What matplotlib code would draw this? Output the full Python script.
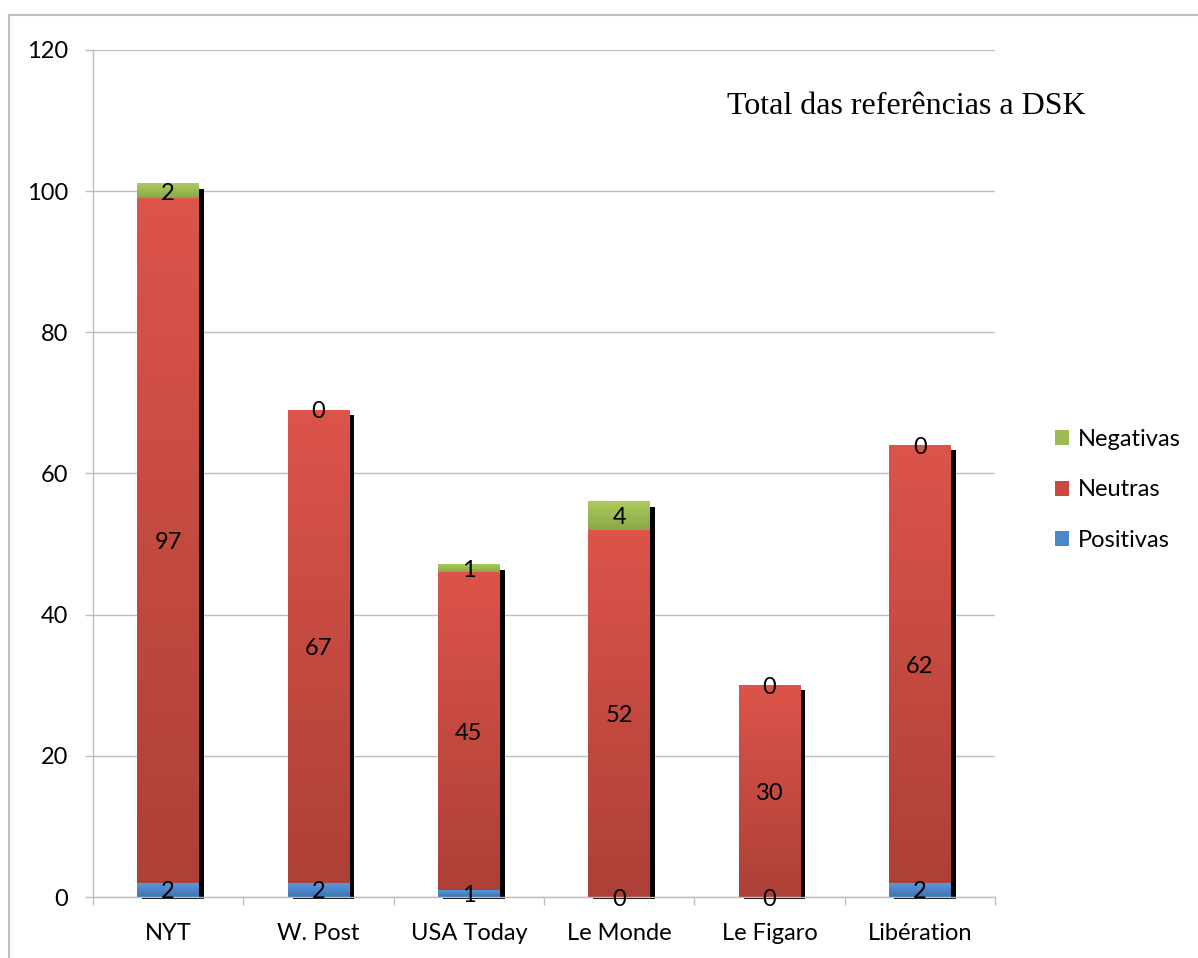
import numpy as np
import matplotlib
matplotlib.use("Agg")
import matplotlib.pyplot as plt
from matplotlib.colors import LinearSegmentedColormap
from matplotlib.transforms import ScaledTranslation
from matplotlib.patches import Patch
from matplotlib.lines import Line2D

categories = ["NYT", "W. Post", "USA Today", "Le Monde", "Le Figaro", "Libération"]
positivas = [2, 2, 1, 0, 0, 2]
neutras = [97, 67, 45, 52, 30, 62]
negativas = [2, 0, 1, 4, 0, 0]
series_names = ["Positivas", "Neutras", "Negativas"]
title_text = "Total das referências a DSK"
yticks = [0, 20, 40, 60, 80, 100, 120]

plt.rcParams['font.family'] = ['Lato', 'DejaVu Sans']

fig = plt.figure(figsize=(11.98, 9.58), dpi=100)
W, H = 1198, 958
ax = fig.add_axes([93 / W, 1 - 897 / H, (995 - 93) / W, (897 - 50) / H])

x = np.arange(len(categories))
width = 0.41
ymax = 120
ax.set_xlim(-0.5, len(categories) - 0.5)
ax.set_ylim(0, ymax)

# gradients (bottom color, top color)
grad = {
    "Positivas": ("#3D74B7", "#5A9BDC"),
    "Neutras": ("#AD4037", "#DC544A"),
    "Negativas": ("#89A845", "#AECB5E"),
}
legend_col = {"Positivas": "#4A88CC", "Neutras": "#C84A40", "Negativas": "#9DBB52"}

pos = np.array(positivas, float)
neu = np.array(neutras, float)
neg = np.array(negativas, float)
totals = pos + neu + neg

# shadow
px_y = ymax / (897 - 50)
shadow_tr = ax.transData + ScaledTranslation(5 / 100, -2 / 100, fig.dpi_scale_trans)
ax.bar(x, totals - 3 * px_y, width=width, color="black", transform=shadow_tr,
       zorder=1.5, clip_on=False, linewidth=0)

label_tr = ax.transData + ScaledTranslation(0, -2 / 100, fig.dpi_scale_trans)
gvals = np.linspace(0, 1, 256).reshape(-1, 1)
bottoms = [np.zeros_like(pos), pos, pos + neu]
vals = [pos, neu, neg]
for name, v, b in zip(series_names, vals, bottoms):
    cmap = LinearSegmentedColormap.from_list(name, list(grad[name]))
    bars = ax.bar(x, v, bottom=b, width=width, color=legend_col[name], zorder=2, linewidth=0)
    for rect, val, bot, xi in zip(bars, v, b, x):
        if val > 0:
            ax.imshow(gvals, extent=[xi - width / 2, xi + width / 2, bot, bot + val],
                      origin="lower", aspect="auto", cmap=cmap, zorder=2.1,
                      interpolation="bilinear")
        ax.text(xi, bot + val / 2, f"{int(val)}", ha="center", va="center",
                fontsize=17, color="black", zorder=4, transform=label_tr, clip_on=False)

ax.set_xlim(-0.5, len(categories) - 0.5)
ax.set_ylim(0, ymax)

# axes styling
gridc = "#BDBDBD"
ax.set_axisbelow(True)
ax.yaxis.grid(True, color=gridc, linewidth=1)
ax.set_yticks(yticks)
ax.tick_params(axis="y", length=6, width=1, color=gridc, pad=12, labelsize=17)
ax.set_xticks(x)
ax.set_xticklabels(categories)
ax.tick_params(axis="x", which="major", length=0, pad=18.5, labelsize=17)
ax.set_xticks(np.arange(len(categories) + 1) - 0.5, minor=True)
ax.tick_params(axis="x", which="minor", length=6, width=1, color=gridc)
for s in ["top", "right"]:
    ax.spines[s].set_visible(False)
for s in ["left", "bottom"]:
    ax.spines[s].set_color(gridc)
    ax.spines[s].set_linewidth(1)

ax.text((1086 - 93) / (995 - 93), 0.933, title_text, transform=ax.transAxes,
        ha="right", va="center", fontsize=23, family="Liberation Serif",
        color="black", clip_on=False)

handles = [Patch(facecolor=legend_col[n], edgecolor="none") for n in reversed(series_names)]
leg = fig.legend(handles, list(reversed(series_names)), loc="center left",
                 bbox_to_anchor=(1034 / W, 1 - 490 / H), frameon=False, fontsize=17,
                 handlelength=0.6, handleheight=0.6, handletextpad=0.35, labelspacing=1.25)

# figure border
fig.add_artist(Line2D([9 / W, 1], [1 - 14.5 / H, 1 - 14.5 / H], transform=fig.transFigure,
                      color="#C0C0C0", linewidth=1.5))
fig.add_artist(Line2D([9 / W, 9 / W], [0, 1 - 14.5 / H], transform=fig.transFigure,
                      color="#C0C0C0", linewidth=1.5))

fig.savefig("out.png", dpi=100)
